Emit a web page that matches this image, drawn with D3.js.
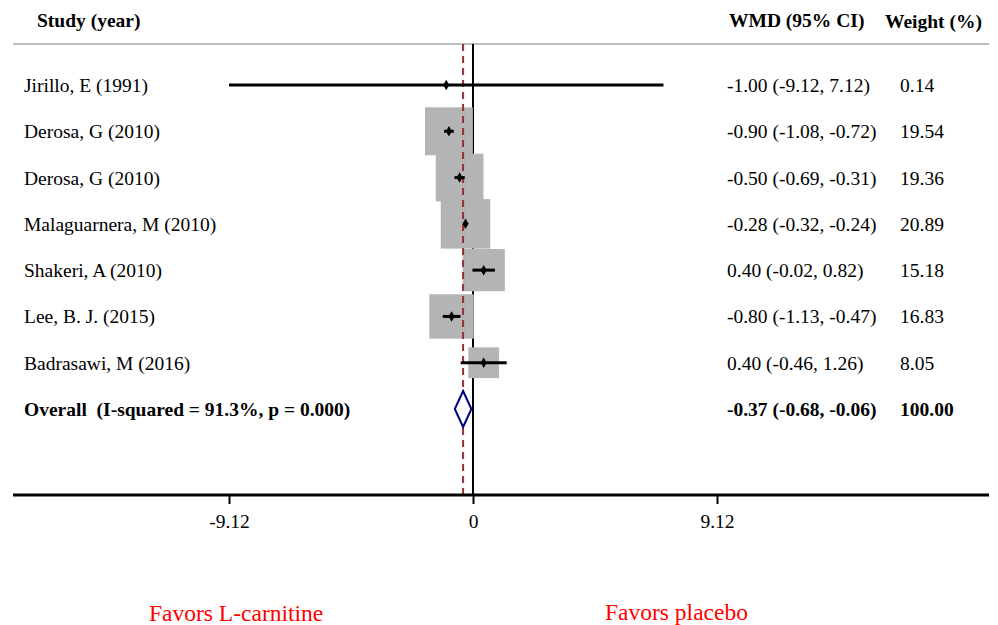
<!DOCTYPE html>
<html lang="en">
<head>
    <meta charset="UTF-8">
    <title>Forest Plot</title>
    <script src="https://d3js.org/d3.v7.min.js"></script>
    <style>
        body { margin: 0; background: #fff; }
        text { font-family: "Liberation Serif", "Times New Roman", serif; white-space: pre; }
    </style>
</head>
<body>
    <div id="chart"></div>
    <script>
        // study data
        const studies = ["Jirillo, E (1991)", "Derosa, G (2010)", "Derosa, G (2010)", "Malaguarnera, M (2010)",
                         "Shakeri, A (2010)", "Lee, B. J. (2015)", "Badrasawi, M (2016)"];
        const wmd = [-1.00, -0.90, -0.50, -0.28, 0.40, -0.80, 0.40];
        const lower = [-9.12, -1.08, -0.69, -0.32, -0.02, -1.13, -0.46];
        const upper = [7.12, -0.72, -0.31, -0.24, 0.82, -0.47, 1.26];
        const weights = [0.14, 19.54, 19.36, 20.89, 15.18, 16.83, 8.05];

        const overall = { label: "Overall  (I-squared = 91.3%, p = 0.000)", est: -0.37, lo: -0.68, hi: -0.06, weight: 100.00 };
        const tickValues = [-9.12, 0, 9.12];
        const favors = ["Favors L-carnitine", "Favors placebo"];

        const width = 998, height = 625;
        const svg = d3.select("#chart").append("svg")
            .attr("width", width)
            .attr("height", height);

        const x = d3.scaleLinear().domain([-9.12, 9.12]).range([229, 717]);
        const rowY = d3.scaleLinear().domain([0, 7]).range([85, 409]);
        const boxSide = d3.scaleSqrt().domain([0, 20.89]).range([0, 49.5]);

        const fmt = v => v.toFixed(2);
        const axisY = 495, topY = 44;
        const fs = 19.5;

        // header
        svg.append("text").attr("x", 37).attr("y", 27).attr("font-size", fs).attr("font-weight", "bold").text("Study (year)");
        svg.append("text").attr("x", 729).attr("y", 27).attr("font-size", fs).attr("font-weight", "bold").text("WMD (95% CI)");
        svg.append("text").attr("x", 885).attr("y", 28).attr("font-size", fs).attr("font-weight", "bold").text("Weight (%)");
        svg.append("line").attr("x1", 13).attr("x2", 989).attr("y1", topY).attr("y2", topY)
            .attr("stroke", "#bdbdbd").attr("stroke-width", 2);

        // no-effect line
        svg.append("line").attr("x1", x(0)).attr("x2", x(0)).attr("y1", topY).attr("y2", axisY)
            .attr("stroke", "#000").attr("stroke-width", 2);

        const data = studies.map((s, i) => ({ study: s, est: wmd[i], lo: lower[i], hi: upper[i], w: weights[i], i }));

        // weight boxes
        svg.selectAll("rect.box").data(data).enter().append("rect")
            .attr("class", "box")
            .attr("x", d => x(d.est) - boxSide(d.w) / 2)
            .attr("y", d => rowY(d.i) - boxSide(d.w) / 2)
            .attr("width", d => boxSide(d.w))
            .attr("height", d => boxSide(d.w))
            .attr("fill", "#b4b4b4");

        // overall effect dashed line
        svg.append("line").attr("x1", x(overall.est)).attr("x2", x(overall.est)).attr("y1", topY).attr("y2", axisY)
            .attr("stroke", "#9b2d30").attr("stroke-width", 2).attr("stroke-dasharray", "7,5");

        // confidence intervals
        svg.selectAll("line.ci").data(data).enter().append("line")
            .attr("class", "ci")
            .attr("x1", d => x(d.lo)).attr("x2", d => x(d.hi))
            .attr("y1", d => rowY(d.i)).attr("y2", d => rowY(d.i))
            .attr("stroke", "#000").attr("stroke-width", 3);

        // point estimates
        svg.selectAll("path.pt").data(data).enter().append("path")
            .attr("class", "pt")
            .attr("d", d3.symbol(d3.symbolDiamond, 32))
            .attr("transform", d => `translate(${x(d.est)},${rowY(d.i)})`)
            .attr("fill", "#000");

        // overall diamond
        const oy = rowY(7);
        svg.append("path")
            .attr("d", `M${x(overall.lo)},${oy} L${x(overall.est)},${oy - 18} L${x(overall.hi)},${oy} L${x(overall.est)},${oy + 18} Z`)
            .attr("fill", "#fff").attr("stroke", "#000080").attr("stroke-width", 2);

        // text columns
        const rows = svg.selectAll("g.row").data(data).enter().append("g").attr("class", "row");
        rows.append("text").attr("x", 24).attr("y", d => rowY(d.i) + 7).attr("font-size", fs).text(d => d.study);
        rows.append("text").attr("x", 727).attr("y", d => rowY(d.i) + 7).attr("font-size", fs)
            .text(d => `${fmt(d.est)} (${fmt(d.lo)}, ${fmt(d.hi)})`);
        rows.append("text").attr("x", 900).attr("y", d => rowY(d.i) + 7).attr("font-size", fs).text(d => fmt(d.w));

        svg.append("text").attr("x", 24).attr("y", oy + 7).attr("font-size", fs).attr("font-weight", "bold").text(overall.label);
        svg.append("text").attr("x", 727).attr("y", oy + 7).attr("font-size", fs).attr("font-weight", "bold")
            .text(`${fmt(overall.est)} (${fmt(overall.lo)}, ${fmt(overall.hi)})`);
        svg.append("text").attr("x", 900).attr("y", oy + 7).attr("font-size", fs).attr("font-weight", "bold").text(fmt(overall.weight));

        // x axis
        svg.append("line").attr("x1", 13).attr("x2", 989).attr("y1", axisY).attr("y2", axisY)
            .attr("stroke", "#000").attr("stroke-width", 3);
        const xAxis = d3.axisBottom(x).tickValues(tickValues).tickSize(9).tickPadding(10)
            .tickFormat(d => d === 0 ? "0" : fmt(d));
        const ax = svg.append("g").attr("transform", `translate(0,${axisY})`).call(xAxis);
        ax.select(".domain").remove();
        ax.selectAll(".tick line").attr("stroke", "#000").attr("stroke-width", 2);
        ax.selectAll(".tick text").attr("font-size", fs).attr("fill", "#000")
            .attr("font-family", "Liberation Serif, Times New Roman, serif");

        // favors labels
        svg.append("text").attr("x", 149).attr("y", 621).attr("font-size", 23.5).attr("fill", "#ff0000").text(favors[0]);
        svg.append("text").attr("x", 605).attr("y", 620).attr("font-size", 23.5).attr("fill", "#ff0000").text(favors[1]);
    </script>
</body>
</html>
